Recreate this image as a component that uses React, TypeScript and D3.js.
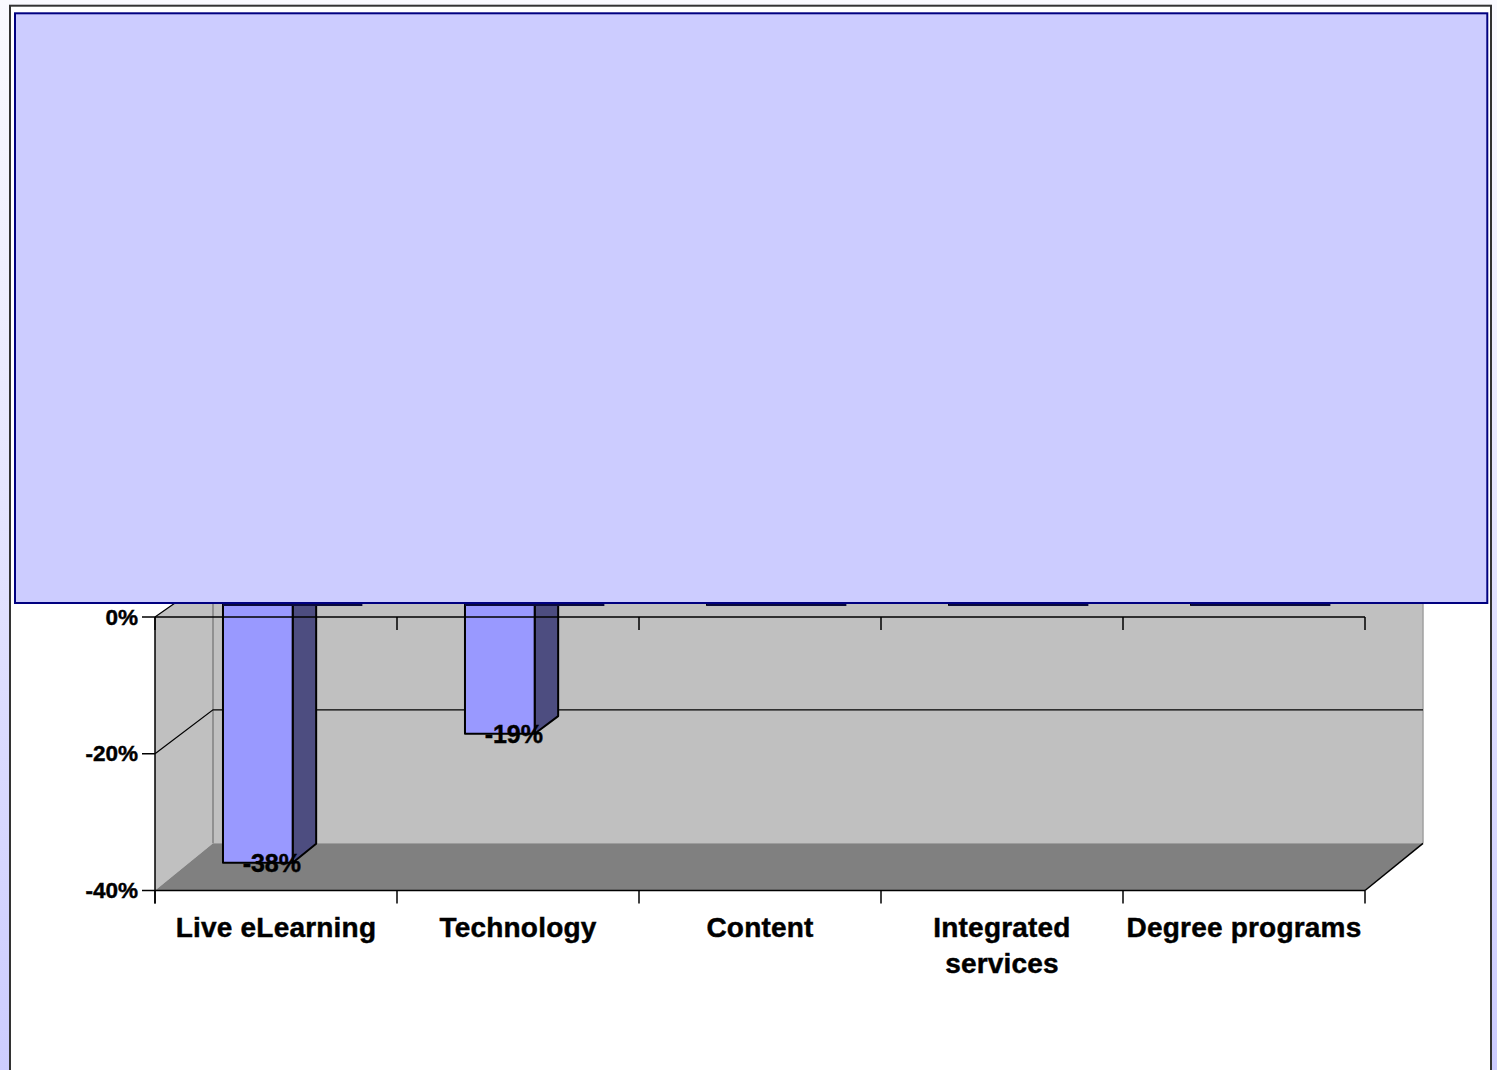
import React from "react";
import * as d3 from "d3";

// Year-over-year change by segment (percent)
const categories = ["Live eLearning", "Technology", "Content", "Integrated services", "Degree programs"];
const categoryLines = [["Live eLearning"], ["Technology"], ["Content"], ["Integrated", "services"], ["Degree programs"]];
const changes = [-38, -19, 0, 0, 0];
const valueTicks = [0, -20, -40];
const valueTickLabels = ["0%", "-20%", "-40%"];
const gridValues = [0, -20];

const W = 1497;
const H = 1070;
const FONT = "'Liberation Sans', Arial, Helvetica, sans-serif";

// 3D box projection: front plane, back plane and horizontal depth offset
const DEPTH_X = 58;
const FRONT_LEFT = 155;
const FRONT_RIGHT = 1365;
const BAR_T0 = 0.3;
const BAR_T1 = 0.705;

const textStyle = {
  fontFamily: FONT,
  fontWeight: "bold" as const,
  fill: "#000000",
  stroke: "#000000",
  strokeWidth: 0.45,
};

export default function App() {
  const x = d3.scaleBand<string>().domain(categories).range([FRONT_LEFT, FRONT_RIGHT]).padding(0);
  const yFront = d3.scaleLinear().domain([0, -40]).range([617, 890.5]);
  const yBack = d3.scaleLinear().domain([0, -40]).range([576.4, 843.3]);
  const bw = x.bandwidth();

  // project a front-plane x and a value at depth t (0 = front, 1 = back)
  const proj = (px: number, v: number, t: number): [number, number] => [
    px + DEPTH_X * t,
    yFront(v) + (yBack(v) - yFront(v)) * t,
  ];
  const pts = (p: [number, number][]) => p.map((q) => q.join(",")).join(" ");

  const [vmin, vmax] = [-40, 0];
  const backLeft = FRONT_LEFT + DEPTH_X;
  const backRight = FRONT_RIGHT + DEPTH_X;

  const leftWall = pts([
    proj(FRONT_LEFT, vmax, 0),
    proj(FRONT_LEFT, vmax, 1),
    proj(FRONT_LEFT, vmin, 1),
    proj(FRONT_LEFT, vmin, 0),
  ]);
  const backWall = pts([
    proj(FRONT_LEFT, vmax, 1),
    proj(FRONT_RIGHT, vmax, 1),
    proj(FRONT_RIGHT, vmin, 1),
    proj(FRONT_LEFT, vmin, 1),
  ]);
  const floor = pts([
    proj(FRONT_LEFT, vmin, 0),
    proj(FRONT_RIGHT, vmin, 0),
    proj(FRONT_RIGHT, vmin, 1),
    proj(FRONT_LEFT, vmin, 1),
  ]);

  const bars = categories.map((c, i) => {
    const v = changes[i];
    const x0 = (x(c) as number) + bw * 0.209;
    const x1 = x0 + bw * 0.288;
    const front = [proj(x0, 0, BAR_T0), proj(x1, 0, BAR_T0), proj(x1, v, BAR_T0), proj(x0, v, BAR_T0)] as [number, number][];
    const side = [proj(x1, 0, BAR_T0), proj(x1, 0, BAR_T1), proj(x1, v, BAR_T1), proj(x1, v, BAR_T0)] as [number, number][];
    const top = [proj(x0, 0, BAR_T0), proj(x1, 0, BAR_T0), proj(x1, 0, BAR_T1), proj(x0, 0, BAR_T1)] as [number, number][];
    const bottom = proj(x0, v, BAR_T0);
    const frontMid = (front[0][0] + front[1][0]) / 2;
    const capStart = front[0][0];
    const capEnd = capStart + (front[1][0] - front[0][0]) * 2;
    return { c, v, front, side, top, bottom, frontMid, capStart, capEnd };
  });

  const boundaries = [...categories.map((c) => x(c) as number), FRONT_RIGHT];

  return (
    <svg
      width={W}
      height={H}
      viewBox={`0 0 ${W} ${H}`}
      style={{ position: "fixed", left: 0, top: 0, display: "block" }}
    >
      <defs>
        <linearGradient id="pageBg" x1="0" y1="0" x2="0" y2="1">
          <stop offset="0" stopColor="#fafaff" />
          <stop offset="0.45" stopColor="#e6e6ff" />
          <stop offset="1" stopColor="#ccccff" />
        </linearGradient>
      </defs>

      {/* page and chart frame */}
      <rect x={0} y={0} width={W} height={H} fill="url(#pageBg)" />
      <rect x={10} y={5.7} width={1481} height={1120} fill="#ffffff" stroke="#333333" strokeWidth={2} />

      {/* walls and floor */}
      <polygon points={backWall} fill="#c0c0c0" />
      <polygon points={leftWall} fill="#c0c0c0" />
      <polygon points={floor} fill="#808080" />
      <line x1={backLeft} y1={yBack(vmax)} x2={backLeft} y2={yBack(vmin)} stroke="#808080" strokeWidth={1.5} />
      <line x1={backRight} y1={yBack(vmax)} x2={backRight} y2={yBack(vmin)} stroke="#a0a0a0" strokeWidth={1.5} />
      <line
        x1={FRONT_RIGHT}
        y1={yFront(vmin)}
        x2={backRight}
        y2={yBack(vmin)}
        stroke="#000000"
        strokeWidth={1.5}
      />

      {/* gridlines along the left wall and back wall */}
      {gridValues.map((g) => (
        <polyline
          key={g}
          points={pts([proj(FRONT_LEFT, g, 0), proj(FRONT_LEFT, g, 1), proj(FRONT_RIGHT, g, 1)])}
          fill="none"
          stroke="#000000"
          strokeWidth={1.2}
        />
      ))}

      {/* bars */}
      {bars.map((b) => (
        <g key={b.c} stroke="#000000" strokeWidth={2} strokeLinejoin="round">
          <polygon points={pts(b.top)} fill="#9999ff" />
          <polygon points={pts(b.side)} fill="#4d4d80" />
          <polygon points={pts(b.front)} fill="#9999ff" />
        </g>
      ))}

      {/* value axis */}
      <line x1={FRONT_LEFT} y1={yFront(vmax)} x2={FRONT_LEFT} y2={yFront(vmin) + 13} stroke="#000000" strokeWidth={1.5} />
      {valueTicks.map((t, i) => (
        <g key={t}>
          <line x1={FRONT_LEFT - 13} y1={yFront(t)} x2={FRONT_LEFT} y2={yFront(t)} stroke="#000000" strokeWidth={1.5} />
          <text x={138} y={yFront(t)} textAnchor="end" dominantBaseline="central" fontSize={22.5} {...textStyle}>
            {valueTickLabels[i]}
          </text>
        </g>
      ))}

      {/* category axis lines at zero and at the floor edge */}
      {[0, vmin].map((lv) => (
        <g key={lv}>
          <line x1={FRONT_LEFT} y1={yFront(lv)} x2={FRONT_RIGHT} y2={yFront(lv)} stroke="#000000" strokeWidth={1.5} />
          {boundaries.map((bx, i) => (
            <line key={i} x1={bx} y1={yFront(lv)} x2={bx} y2={yFront(lv) + 13} stroke="#000000" strokeWidth={1.5} />
          ))}
        </g>
      ))}

      {/* category labels */}
      {categories.map((c, i) => (
        <text
          key={c}
          x={(x(c) as number) + bw / 2}
          y={937}
          textAnchor="middle"
          fontSize={28}
          letterSpacing={0.2}
          {...textStyle}
        >
          {categoryLines[i].map((line, j) => (
            <tspan key={j} x={(x(c) as number) + bw / 2} dy={j === 0 ? 0 : 36}>
              {line}
            </tspan>
          ))}
        </text>
      ))}

      {/* data labels on the non-zero bars */}
      {bars
        .filter((b) => b.v !== 0)
        .map((b) => (
          <text
            key={b.c}
            x={b.frontMid + 14}
            y={b.bottom[1]}
            textAnchor="middle"
            dominantBaseline="central"
            fontSize={25}
            {...textStyle}
          >
            {`${b.v}%`}
          </text>
        ))}

      {/* bar caps along the zero level */}
      {bars.map((b) => (
        <line key={b.c} x1={b.capStart} y1={605} x2={b.capEnd} y2={605} stroke="#0a0a3a" strokeWidth={2} />
      ))}

      {/* covering panel */}
      <rect x={15} y={13.3} width={1472.3} height={589.7} fill="#ccccff" stroke="#000080" strokeWidth={2} />
    </svg>
  );
}
